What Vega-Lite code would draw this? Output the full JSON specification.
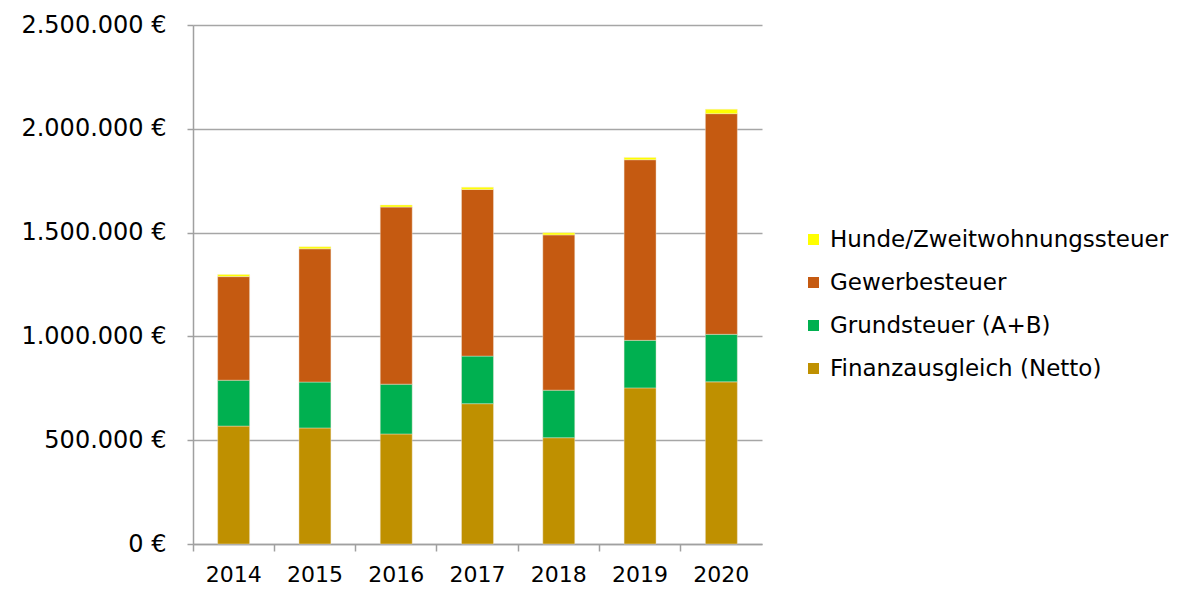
{
  "$schema": "https://vega.github.io/schema/vega-lite/v6.json",
  "width": 569,
  "height": 519,
  "padding": {"left": 193, "top": 25, "right": 417, "bottom": 46},
  "autosize": "none",
  "background": "white",
  "config": {
    "locale": {"number": {"decimal": ",", "thousands": ".", "grouping": [3], "currency": ["", " €"]}},
    "view": {"stroke": null}
  },
  "data": {
    "values": [
      {"Jahr": "2014", "Kategorie": "Finanzausgleich (Netto)", "k": 1, "Betrag": 568000},
      {"Jahr": "2014", "Kategorie": "Grundsteuer (A+B)", "k": 2, "Betrag": 221000},
      {"Jahr": "2014", "Kategorie": "Gewerbesteuer", "k": 3, "Betrag": 499000},
      {"Jahr": "2014", "Kategorie": "Hunde/Zweitwohnungssteuer", "k": 4, "Betrag": 10000},
      {"Jahr": "2015", "Kategorie": "Finanzausgleich (Netto)", "k": 1, "Betrag": 559000},
      {"Jahr": "2015", "Kategorie": "Grundsteuer (A+B)", "k": 2, "Betrag": 221000},
      {"Jahr": "2015", "Kategorie": "Gewerbesteuer", "k": 3, "Betrag": 642000},
      {"Jahr": "2015", "Kategorie": "Hunde/Zweitwohnungssteuer", "k": 4, "Betrag": 10000},
      {"Jahr": "2016", "Kategorie": "Finanzausgleich (Netto)", "k": 1, "Betrag": 530000},
      {"Jahr": "2016", "Kategorie": "Grundsteuer (A+B)", "k": 2, "Betrag": 240000},
      {"Jahr": "2016", "Kategorie": "Gewerbesteuer", "k": 3, "Betrag": 853000},
      {"Jahr": "2016", "Kategorie": "Hunde/Zweitwohnungssteuer", "k": 4, "Betrag": 10000},
      {"Jahr": "2017", "Kategorie": "Finanzausgleich (Netto)", "k": 1, "Betrag": 676000},
      {"Jahr": "2017", "Kategorie": "Grundsteuer (A+B)", "k": 2, "Betrag": 229000},
      {"Jahr": "2017", "Kategorie": "Gewerbesteuer", "k": 3, "Betrag": 803000},
      {"Jahr": "2017", "Kategorie": "Hunde/Zweitwohnungssteuer", "k": 4, "Betrag": 11000},
      {"Jahr": "2018", "Kategorie": "Finanzausgleich (Netto)", "k": 1, "Betrag": 512000},
      {"Jahr": "2018", "Kategorie": "Grundsteuer (A+B)", "k": 2, "Betrag": 229000},
      {"Jahr": "2018", "Kategorie": "Gewerbesteuer", "k": 3, "Betrag": 748000},
      {"Jahr": "2018", "Kategorie": "Hunde/Zweitwohnungssteuer", "k": 4, "Betrag": 10000},
      {"Jahr": "2019", "Kategorie": "Finanzausgleich (Netto)", "k": 1, "Betrag": 752000},
      {"Jahr": "2019", "Kategorie": "Grundsteuer (A+B)", "k": 2, "Betrag": 229000},
      {"Jahr": "2019", "Kategorie": "Gewerbesteuer", "k": 3, "Betrag": 870000},
      {"Jahr": "2019", "Kategorie": "Hunde/Zweitwohnungssteuer", "k": 4, "Betrag": 11000},
      {"Jahr": "2020", "Kategorie": "Finanzausgleich (Netto)", "k": 1, "Betrag": 781000},
      {"Jahr": "2020", "Kategorie": "Grundsteuer (A+B)", "k": 2, "Betrag": 229000},
      {"Jahr": "2020", "Kategorie": "Gewerbesteuer", "k": 3, "Betrag": 1063000},
      {"Jahr": "2020", "Kategorie": "Hunde/Zweitwohnungssteuer", "k": 4, "Betrag": 21000}
    ]
  },
  "mark": {"type": "bar", "stroke": "#f3e6d8", "strokeWidth": 0.6, "strokeOpacity": 0.7},
  "encoding": {
    "x": {
      "field": "Jahr",
      "type": "ordinal",
      "scale": {"paddingInner": 0.607, "paddingOuter": 0.3035},
      "axis": {
        "title": null,
        "labelAngle": 0,
        "labelFont": "DejaVu Sans",
        "labelFontSize": 22,
        "labelColor": "#000000",
        "labelPadding": 13,
        "domainColor": "#A0A0A0",
        "domainWidth": 1.5,
        "tickColor": "#A0A0A0",
        "tickWidth": 1.5,
        "tickSize": 7,
        "bandPosition": -0.772
      }
    },
    "y": {
      "field": "Betrag",
      "type": "quantitative",
      "stack": "zero",
      "scale": {"domain": [0, 2500000]},
      "axis": {
        "title": null,
        "values": [0, 500000, 1000000, 1500000, 2000000, 2500000],
        "format": "$,.0f",
        "labelFont": "DejaVu Sans",
        "labelFontSize": 24,
        "labelColor": "#000000",
        "labelPadding": 21,
        "domainColor": "#A0A0A0",
        "domainWidth": 1.5,
        "tickColor": "#A0A0A0",
        "tickWidth": 1.5,
        "tickSize": 6,
        "gridColor": "#A6A6A6",
        "gridWidth": 1.5
      }
    },
    "color": {
      "field": "Kategorie",
      "type": "nominal",
      "scale": {
        "domain": ["Hunde/Zweitwohnungssteuer", "Gewerbesteuer", "Grundsteuer (A+B)", "Finanzausgleich (Netto)"],
        "range": ["#FFFF00", "#C55A11", "#00B050", "#BF9000"]
      },
      "legend": {
        "title": null,
        "orient": "none",
        "legendX": 609,
        "legendY": 203,
        "symbolType": "square",
        "symbolSize": 121,
        "symbolStrokeWidth": 0,
        "labelFont": "DejaVu Sans",
        "labelFontSize": 23,
        "labelColor": "#000000",
        "labelOffset": 5,
        "rowPadding": 19,
        "labelLimit": 450
      }
    },
    "order": {"field": "k", "type": "quantitative", "sort": "ascending"}
  }
}
